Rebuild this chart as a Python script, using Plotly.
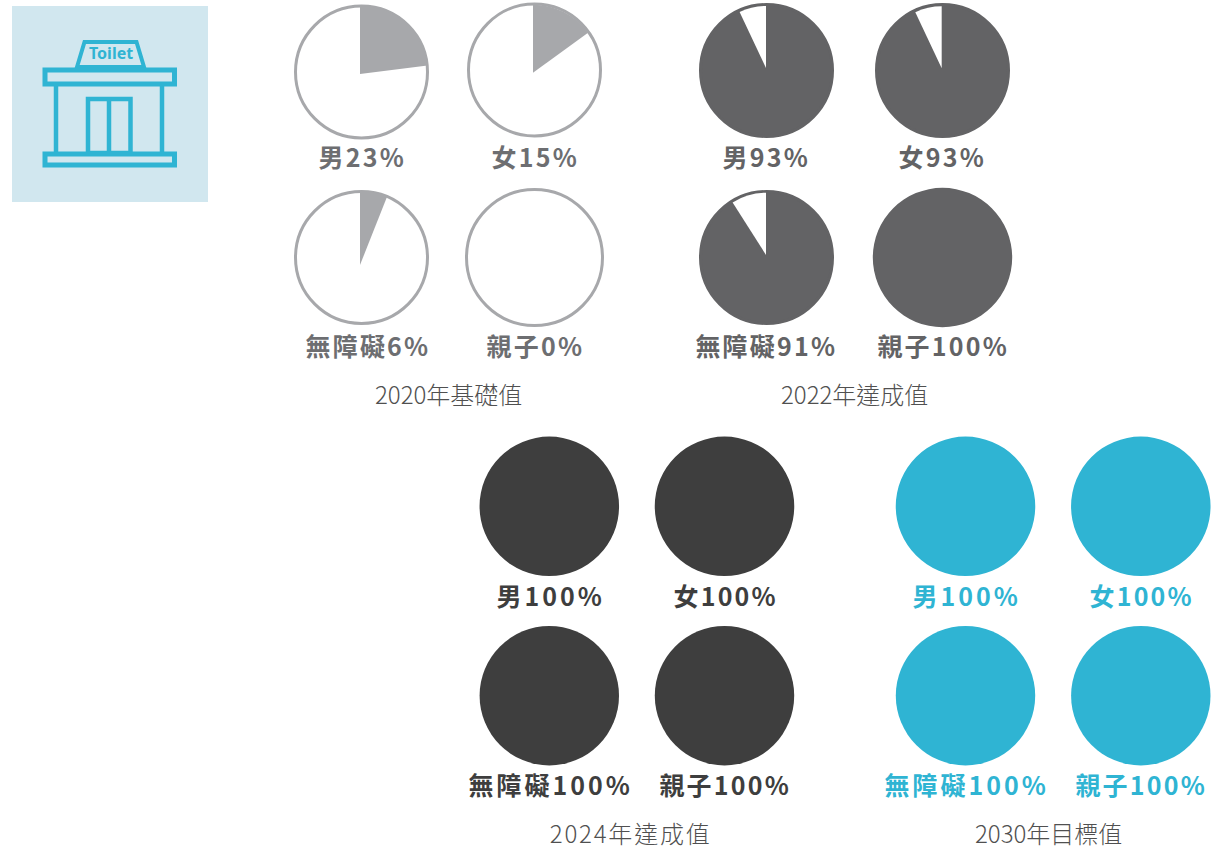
import plotly.graph_objects as go

W, H = 1211, 846

# ---- data ----
categories = ["男", "女", "無障礙", "親子"]
values_2020 = [23, 15, 6, 0]
values_2022 = [93, 93, 91, 100]
values_2024 = [100, 100, 100, 100]
values_2030 = [100, 100, 100, 100]
captions = ["2020年基礎值", "2022年達成值", "2024年達成值", "2030年目標值"]

# ---- colours and geometry ----
GRAY, DARK, BLACK, TEAL = "#a7a8ab", "#636365", "#3e3e3e", "#2fb4d3"
TEXT_2020 = "#6d6e71"
CAPTION = "#505050"
BG_ICON = "#d1e7ef"
CJK = "Noto Sans CJK TC"


def px(x):
    return x / W


def py(y):
    return 1 - y / H


def dom(cx, cy, r):
    return dict(x=[px(cx - r), px(cx + r)], y=[py(cy + r), py(cy - r)])


def disc(cx, cy, r, fill, line=None):
    return go.Pie(values=[1], sort=False, textinfo="none", hoverinfo="skip", showlegend=False,
                  domain=dom(cx, cy, r),
                  marker=dict(colors=[fill], line=dict(color=line or fill, width=3 if line else 0)))


def wedge(cx, cy, r, value, colors):
    return go.Pie(values=[value, 100 - value], sort=False, direction="clockwise", rotation=0,
                  textinfo="none", hoverinfo="skip", showlegend=False, domain=dom(cx, cy, r),
                  marker=dict(colors=colors, line=dict(width=0)))


fig = go.Figure()
CLEAR = "rgba(0,0,0,0)"

# 2020 – outlined ring, grey wedge from its own apex
rings_2020 = [(361.5, 72, 66), (534.5, 70, 66), (361.5, 257.5, 66), (534.5, 257.5, 68)]
apex_2020 = [(360, 74, 68), (533, 72.7, 68), (360, 265, 74), (534.5, 257.5, 66)]
for ring, ap, v in zip(rings_2020, apex_2020, values_2020):
    fig.add_trace(disc(*ring, "#ffffff", GRAY))
    if v > 0:
        fig.add_trace(wedge(*ap, v, [GRAY, CLEAR]))

# 2022 – dark disc, white wedge on top
discs_2022 = [(766.5, 70.5, 66), (942.5, 70.5, 66), (766.5, 257.5, 66), (942.5, 257.5, 69.7)]
apex_2022 = [(766, 68, 62), (941.7, 68.3, 62), (766, 255, 62.3), (942.5, 257.5, 60)]
for d, ap, v in zip(discs_2022, apex_2022, values_2022):
    fig.add_trace(disc(*d, DARK, DARK if v < 100 else None))
    if v < 100:
        fig.add_trace(wedge(*ap, v, [CLEAR, "#ffffff"]))

# 2024 and 2030 – solid
pos_2024 = [(549.3, 506.3, 69.7), (724.5, 506.3, 69.7), (549.3, 695.7, 69.7), (724.5, 695.7, 69.7)]
for (cx, cy, r), v in zip(pos_2024, values_2024):
    fig.add_trace(wedge(cx, cy, r, v, [BLACK, CLEAR]))
pos_2030 = [(965.5, 506.3, 69.7), (1140.8, 506.3, 69.7), (965.5, 695.7, 69.7), (1140.8, 695.7, 69.7)]
for (cx, cy, r), v in zip(pos_2030, values_2030):
    fig.add_trace(wedge(cx, cy, r, v, [TEAL, CLEAR]))

# ---- labels ----
annotations = []


def text(x, y, s, color, size, weight=400, family=CJK):
    annotations.append(dict(
        x=px(x), y=py(y), xref="paper", yref="paper", text=s, showarrow=False,
        xanchor="center", yanchor="middle",
        font=dict(family=family, size=size, color=color, weight=weight)))


label_pos = {
    "2020": [(362.5, 155.5), (535, 155.5), (367.5, 345), (535, 345)],
    "2022": [(767, 155.5), (943, 155.5), (767, 345), (942.5, 345)],
    "2024": [(550.5, 595), (725.5, 595), (550, 784), (725, 784)],
    "2030": [(966, 595), (1141.5, 595), (966, 784), (1141, 784)],
}
for key, vals, color in [("2020", values_2020, TEXT_2020), ("2022", values_2022, DARK),
                         ("2024", values_2024, BLACK), ("2030", values_2030, TEAL)]:
    for (x, y), c, v in zip(label_pos[key], categories, vals):
        text(x, y, f"{c}{v}%", color, 25, 700)

for (x, y), s in zip([(448.5, 393.5), (854, 393.5), (630.5, 832), (1048, 832)], captions):
    text(x, y, s, CAPTION, 24, 300)

text(110.5, 53.5, "Toilet", TEAL, 16, 700, "Noto Sans")


# ---- icon ----
def rect(x0, y0, x1, y1, fill=None, line=None, width=0):
    return dict(type="rect", xref="paper", yref="paper", x0=px(x0), x1=px(x1), y0=py(y0), y1=py(y1),
                fillcolor=fill or CLEAR, line=dict(color=line or CLEAR, width=width), layer="below")


def seg(x0, y0, x1, y1):
    return dict(type="line", xref="paper", yref="paper", x0=px(x0), x1=px(x1), y0=py(y0), y1=py(y1),
                line=dict(color=TEAL, width=4.5), layer="below")


def trap(points):
    d = "M " + " L ".join(f"{px(x)} {py(y)}" for x, y in points) + " Z"
    return dict(type="path", path=d, xref="paper", yref="paper",
                line=dict(color=TEAL, width=4), fillcolor=CLEAR, layer="below")


shapes = [
    rect(12, 6, 208, 202, fill=BG_ICON),
    trap([(77, 67), (84.5, 42), (136.5, 42), (144, 67)]),
    rect(45, 70, 174.5, 84, line=TEAL, width=5),
    seg(56, 84, 56, 153), seg(162, 84, 162, 153),
    rect(88, 99, 130.5, 153, line=TEAL, width=4.5),
    seg(109, 99, 109, 153),
    rect(45, 154, 174.5, 165, line=TEAL, width=5),
]

fig.update_layout(
    width=W, height=H, margin=dict(l=0, r=0, t=0, b=0), paper_bgcolor="#ffffff",
    plot_bgcolor="#ffffff", showlegend=False, annotations=annotations, shapes=shapes,
)

post = """
document.body.style.margin = '0';
document.body.style.overflow = 'hidden';
document.querySelectorAll('.annotation-text').forEach(function (t) {
  var s = t.textContent;
  var w = String(t.style.fontWeight);
  if (s === '2024年達成值') t.style.letterSpacing = '1.8px';
  if ((w === '700' || w === 'bold') && s !== 'Toilet') {
    var wide = s === '男100%' || s === '無障礙100%';
    t.style.letterSpacing = wide ? '3px' : '2.2px';
  }
});
"""
fig.write_html("out.html", post_script=post, config={"displayModeBar": False, "responsive": False})
